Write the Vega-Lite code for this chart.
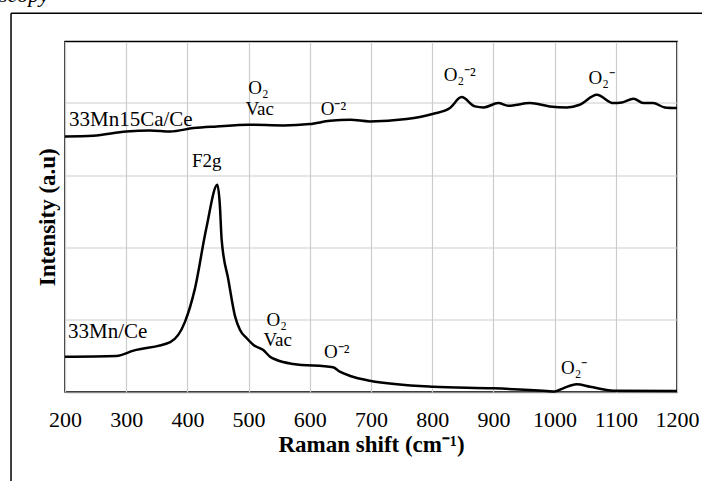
{
  "$schema": "https://vega.github.io/schema/vega-lite/v6.json",
  "width": 612,
  "height": 350.5,
  "autosize": "none",
  "padding": {"left": 65, "top": 41.5, "right": 25, "bottom": 88.5},
  "background": "#ffffff",
  "config": {
    "view": {"stroke": "#000000", "strokeWidth": 1.5},
    "font": "Liberation Serif",
    "text": {"font": "Liberation Serif", "color": "#000000"}
  },
  "datasets": {
    "spectra": [
      {"series": "33Mn15Ca/Ce", "shift": 200, "intensity": 3.536},
      {"series": "33Mn15Ca/Ce", "shift": 246, "intensity": 3.546},
      {"series": "33Mn15Ca/Ce", "shift": 300, "intensity": 3.605},
      {"series": "33Mn15Ca/Ce", "shift": 339, "intensity": 3.619},
      {"series": "33Mn15Ca/Ce", "shift": 372, "intensity": 3.605},
      {"series": "33Mn15Ca/Ce", "shift": 410, "intensity": 3.652},
      {"series": "33Mn15Ca/Ce", "shift": 448, "intensity": 3.675},
      {"series": "33Mn15Ca/Ce", "shift": 500, "intensity": 3.698},
      {"series": "33Mn15Ca/Ce", "shift": 557, "intensity": 3.689},
      {"series": "33Mn15Ca/Ce", "shift": 600, "intensity": 3.707},
      {"series": "33Mn15Ca/Ce", "shift": 633, "intensity": 3.753},
      {"series": "33Mn15Ca/Ce", "shift": 666, "intensity": 3.767},
      {"series": "33Mn15Ca/Ce", "shift": 698, "intensity": 3.744},
      {"series": "33Mn15Ca/Ce", "shift": 758, "intensity": 3.777},
      {"series": "33Mn15Ca/Ce", "shift": 802, "intensity": 3.85},
      {"series": "33Mn15Ca/Ce", "shift": 829, "intensity": 3.929},
      {"series": "33Mn15Ca/Ce", "shift": 848, "intensity": 4.081},
      {"series": "33Mn15Ca/Ce", "shift": 870, "intensity": 3.952},
      {"series": "33Mn15Ca/Ce", "shift": 884, "intensity": 3.938},
      {"series": "33Mn15Ca/Ce", "shift": 908, "intensity": 3.998},
      {"series": "33Mn15Ca/Ce", "shift": 924, "intensity": 3.961},
      {"series": "33Mn15Ca/Ce", "shift": 960, "intensity": 3.998},
      {"series": "33Mn15Ca/Ce", "shift": 992, "intensity": 3.952},
      {"series": "33Mn15Ca/Ce", "shift": 1020, "intensity": 3.938},
      {"series": "33Mn15Ca/Ce", "shift": 1041, "intensity": 3.975},
      {"series": "33Mn15Ca/Ce", "shift": 1069, "intensity": 4.114},
      {"series": "33Mn15Ca/Ce", "shift": 1096, "intensity": 3.998},
      {"series": "33Mn15Ca/Ce", "shift": 1110, "intensity": 4.007},
      {"series": "33Mn15Ca/Ce", "shift": 1129, "intensity": 4.058},
      {"series": "33Mn15Ca/Ce", "shift": 1145, "intensity": 3.998},
      {"series": "33Mn15Ca/Ce", "shift": 1161, "intensity": 3.998},
      {"series": "33Mn15Ca/Ce", "shift": 1180, "intensity": 3.938},
      {"series": "33Mn15Ca/Ce", "shift": 1200, "intensity": 3.929},
      {"series": "33Mn/Ce", "shift": 200, "intensity": 0.489},
      {"series": "33Mn/Ce", "shift": 284, "intensity": 0.499},
      {"series": "33Mn/Ce", "shift": 312, "intensity": 0.572},
      {"series": "33Mn/Ce", "shift": 372, "intensity": 0.69},
      {"series": "33Mn/Ce", "shift": 396, "intensity": 0.97},
      {"series": "33Mn/Ce", "shift": 412, "intensity": 1.42},
      {"series": "33Mn/Ce", "shift": 431, "intensity": 2.27},
      {"series": "33Mn/Ce", "shift": 449, "intensity": 2.867},
      {"series": "33Mn/Ce", "shift": 453, "intensity": 2.59},
      {"series": "33Mn/Ce", "shift": 456, "intensity": 2.105},
      {"series": "33Mn/Ce", "shift": 467, "intensity": 1.551},
      {"series": "33Mn/Ce", "shift": 478, "intensity": 1.043},
      {"series": "33Mn/Ce", "shift": 486, "intensity": 0.859},
      {"series": "33Mn/Ce", "shift": 497, "intensity": 0.744},
      {"series": "33Mn/Ce", "shift": 508, "intensity": 0.651},
      {"series": "33Mn/Ce", "shift": 524, "intensity": 0.58},
      {"series": "33Mn/Ce", "shift": 535, "intensity": 0.489},
      {"series": "33Mn/Ce", "shift": 546, "intensity": 0.443},
      {"series": "33Mn/Ce", "shift": 573, "intensity": 0.388},
      {"series": "33Mn/Ce", "shift": 638, "intensity": 0.342},
      {"series": "33Mn/Ce", "shift": 649, "intensity": 0.281},
      {"series": "33Mn/Ce", "shift": 666, "intensity": 0.222},
      {"series": "33Mn/Ce", "shift": 698, "intensity": 0.157},
      {"series": "33Mn/Ce", "shift": 802, "intensity": 0.073},
      {"series": "33Mn/Ce", "shift": 900, "intensity": 0.051},
      {"series": "33Mn/Ce", "shift": 987, "intensity": 0.014},
      {"series": "33Mn/Ce", "shift": 1000, "intensity": 0.006},
      {"series": "33Mn/Ce", "shift": 1014, "intensity": 0.051},
      {"series": "33Mn/Ce", "shift": 1036, "intensity": 0.107},
      {"series": "33Mn/Ce", "shift": 1058, "intensity": 0.073},
      {"series": "33Mn/Ce", "shift": 1096, "intensity": 0.018},
      {"series": "33Mn/Ce", "shift": 1200, "intensity": 0.014}
    ],
    "seriesNames": [
      {"shift": 206.5, "intensity": 3.76, "label": "33Mn15Ca/Ce"},
      {"shift": 205, "intensity": 0.83, "label": "33Mn/Ce"}
    ],
    "peakLabels": [
      {"shift": 431.5, "intensity": 3.19, "label": "F2g"},
      {"shift": 516, "intensity": 4.21, "label": "O₂"},
      {"shift": 518, "intensity": 3.92, "label": "Vac"},
      {"shift": 638.5, "intensity": 3.91, "label": "O⁻²"},
      {"shift": 845, "intensity": 4.39, "label": "O₂⁻²"},
      {"shift": 1077, "intensity": 4.34, "label": "O₂⁻"},
      {"shift": 546, "intensity": 1.0, "label": "O₂"},
      {"shift": 547.5, "intensity": 0.72, "label": "Vac"},
      {"shift": 644, "intensity": 0.56, "label": "O⁻²"},
      {"shift": 1032, "intensity": 0.33, "label": "O₂⁻"}
    ],
    "caption": [
      {"shift": 92, "intensity": 5.39, "label": "scopy"}
    ],
    "frameTop": [
      {"shift": 111.8, "shift2": 1260, "intensity": 5.24}
    ],
    "frameLeft": [
      {"shift": 111.8, "intensity": 5.24, "intensity2": -1.5}
    ]
  },
  "layer": [
    {
      "data": {"name": "spectra"},
      "mark": {"type": "line", "color": "#000000", "strokeWidth": 2.5, "interpolate": "monotone", "clip": false},
      "encoding": {
        "x": {
          "field": "shift", "type": "quantitative",
          "scale": {"domain": [200, 1200], "nice": false, "zero": false},
          "axis": {
            "title": "Raman shift (cm⁻¹)",
            "values": [200, 300, 400, 500, 600, 700, 800, 900, 1000, 1100, 1200],
            "format": "d",
            "grid": true, "gridColor": "#cccccc", "gridWidth": 1.2, "gridOpacity": 1,
            "domain": false, "ticks": false, "tickSize": 0,
            "labelFont": "Liberation Serif", "labelFontSize": 22, "labelColor": "#000000",
            "labelPadding": 17, "labelFlush": false, "labelOverlap": false,
            "titleFont": "Liberation Serif", "titleFontSize": 23, "titleFontWeight": "bold",
            "titleColor": "#000000", "titlePadding": 3
          }
        },
        "y": {
          "field": "intensity", "type": "quantitative",
          "scale": {"domain": [0, 4.85], "nice": false, "zero": false},
          "axis": {
            "title": "Intensity (a.u)",
            "values": [0, 1, 2, 3, 4],
            "grid": true, "gridColor": "#cccccc", "gridWidth": 1.2, "gridOpacity": 1,
            "domain": false, "ticks": false, "tickSize": 0, "labels": false,
            "titleFont": "Liberation Serif", "titleFontSize": 23, "titleFontWeight": "bold",
            "titleColor": "#000000", "titlePadding": 6
          }
        },
        "detail": {"field": "series", "type": "nominal"}
      }
    },
    {
      "data": {"name": "seriesNames"},
      "mark": {"type": "text", "align": "left", "baseline": "middle", "fontSize": 21, "font": "Liberation Serif", "color": "#000000"},
      "encoding": {
        "x": {"field": "shift", "type": "quantitative"},
        "y": {"field": "intensity", "type": "quantitative"},
        "text": {"field": "label"}
      }
    },
    {
      "data": {"name": "peakLabels"},
      "mark": {"type": "text", "align": "center", "baseline": "middle", "fontSize": 19, "font": "Liberation Serif", "color": "#000000"},
      "encoding": {
        "x": {"field": "shift", "type": "quantitative"},
        "y": {"field": "intensity", "type": "quantitative"},
        "text": {"field": "label"}
      }
    },
    {
      "data": {"name": "caption"},
      "mark": {"type": "text", "align": "left", "baseline": "alphabetic", "fontSize": 22, "fontStyle": "italic", "font": "Liberation Serif", "color": "#000000", "clip": false},
      "encoding": {
        "x": {"field": "shift", "type": "quantitative"},
        "y": {"field": "intensity", "type": "quantitative"},
        "text": {"field": "label"}
      }
    },
    {
      "data": {"name": "frameTop"},
      "mark": {"type": "rule", "color": "#000000", "strokeWidth": 1.5, "clip": false},
      "encoding": {
        "x": {"field": "shift", "type": "quantitative"},
        "x2": {"field": "shift2"},
        "y": {"field": "intensity", "type": "quantitative"}
      }
    },
    {
      "data": {"name": "frameLeft"},
      "mark": {"type": "rule", "color": "#000000", "strokeWidth": 1.5, "clip": false},
      "encoding": {
        "x": {"field": "shift", "type": "quantitative"},
        "y": {"field": "intensity", "type": "quantitative"},
        "y2": {"field": "intensity2"}
      }
    }
  ]
}
